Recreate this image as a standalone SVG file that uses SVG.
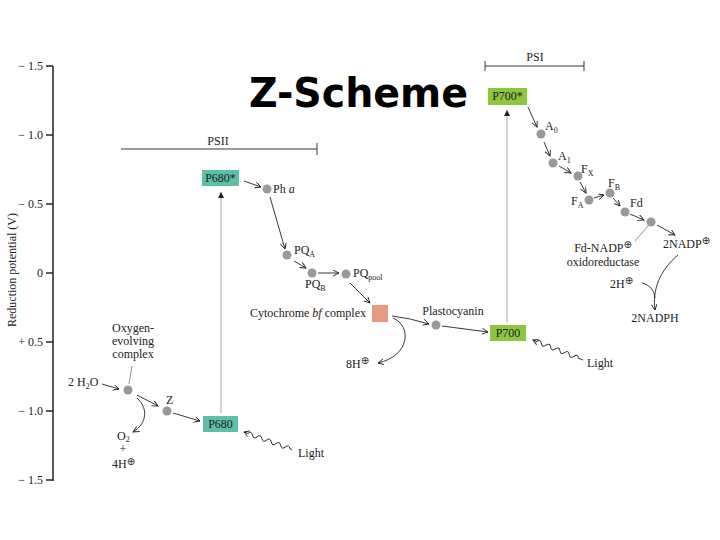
<svg xmlns="http://www.w3.org/2000/svg" width="720" height="540" viewBox="0 0 720 540">
<defs>
<style>
.t{font-family:"Liberation Serif","Times New Roman",serif;font-size:12px;fill:#222}
.s{font-size:8px}
.p{font-family:"DejaVu Sans",sans-serif;font-size:10px}
.ln{stroke:#222;stroke-width:0.9;fill:none}
.ld{stroke:#777;stroke-width:0.8;fill:none}
.up{stroke:#aaa;stroke-width:1;fill:none}
.dot{fill:#999}
.ax{stroke:#222;stroke-width:1.5;fill:none}
.title{font-family:"DejaVu Sans",sans-serif;font-weight:bold;font-size:40px;fill:#000}
</style>
<marker id="ah" markerWidth="8" markerHeight="8" refX="6" refY="3" orient="auto" markerUnits="userSpaceOnUse">
<path d="M0,0 L6,3 L0,6" fill="none" stroke="#222" stroke-width="0.9"/>
</marker>
<marker id="ahf" markerWidth="8" markerHeight="8" refX="6" refY="3" orient="auto" markerUnits="userSpaceOnUse">
<path d="M0,0 L6,3 L0,6 Z" fill="#222"/>
</marker>
</defs>
<rect width="720" height="540" fill="#fff"/>

<text class="title" x="249" y="107" textLength="219" lengthAdjust="spacingAndGlyphs">Z-Scheme</text>

<g id="axis">
<line class="ax" x1="53" y1="66" x2="53" y2="481"/>
<g class="ax">
<line x1="46" y1="66" x2="53" y2="66"/>
<line x1="46" y1="135" x2="53" y2="135"/>
<line x1="46" y1="204" x2="53" y2="204"/>
<line x1="46" y1="273" x2="53" y2="273"/>
<line x1="46" y1="342" x2="53" y2="342"/>
<line x1="46" y1="411" x2="53" y2="411"/>
<line x1="46" y1="480" x2="53" y2="480"/>
</g>
<g class="t" text-anchor="end">
<text x="43" y="70">− 1.5</text>
<text x="43" y="139">− 1.0</text>
<text x="43" y="208">− 0.5</text>
<text x="43" y="277">0</text>
<text x="43" y="346">+ 0.5</text>
<text x="43" y="415">− 1.0</text>
<text x="43" y="484">− 1.5</text>
</g>
<text class="t" transform="translate(16,270) rotate(-90)" text-anchor="middle">Reduction potential (V)</text>
</g>

<g id="psii-bracket">
<line class="ln" x1="121" y1="149" x2="317" y2="149"/>
<line class="ln" x1="317" y1="143" x2="317" y2="155"/>
<text class="t" x="218" y="145" text-anchor="middle">PSII</text>
</g>
<g id="psi-bracket">
<line class="ln" x1="485" y1="66" x2="584" y2="66"/>
<line class="ln" x1="485" y1="61" x2="485" y2="71"/>
<line class="ln" x1="584" y1="61" x2="584" y2="71"/>
<text class="t" x="535" y="61" text-anchor="middle">PSI</text>
</g>

<g id="connectors">
<line class="up" x1="221" y1="413" x2="221" y2="192" marker-end="url(#ahf)"/>
<line class="up" x1="507" y1="323" x2="507" y2="110" marker-end="url(#ahf)"/>
<line class="ln" x1="244" y1="181" x2="261" y2="187" marker-end="url(#ah)"/>
<line class="ln" x1="270" y1="197" x2="285" y2="249" marker-end="url(#ah)"/>
<line class="ln" x1="294" y1="261" x2="306" y2="268" marker-end="url(#ah)"/>
<line class="ln" x1="318" y1="273" x2="339" y2="273" marker-end="url(#ah)"/>
<line class="ln" x1="350" y1="283" x2="370" y2="303" marker-end="url(#ah)"/>
<path class="ln" d="M392,316 Q410,318 429,324" marker-end="url(#ah)"/>
<line class="ln" x1="442" y1="326" x2="488" y2="332" marker-end="url(#ah)"/>
<path class="ln" d="M393,318 C412,326 410,356 378,363" marker-end="url(#ah)"/>
<line class="ln" x1="528" y1="107" x2="537" y2="127" marker-end="url(#ah)"/>
<line class="ln" x1="544" y1="142" x2="550" y2="156" marker-end="url(#ah)"/>
<line class="ln" x1="559" y1="166" x2="571" y2="173" marker-end="url(#ah)"/>
<line class="ln" x1="580" y1="182" x2="586" y2="193" marker-end="url(#ah)"/>
<line class="ln" x1="594" y1="198" x2="604" y2="195" marker-end="url(#ah)"/>
<line class="ln" x1="613" y1="198" x2="620" y2="206" marker-end="url(#ah)"/>
<line class="ln" x1="630" y1="214" x2="644" y2="220" marker-end="url(#ah)"/>
<line class="ld" x1="648" y1="226" x2="635" y2="241"/>
<line class="ln" x1="657" y1="225" x2="675" y2="235" marker-end="url(#ah)"/>
<path class="ln" d="M678,255 C660,270 652,290 655,310" marker-end="url(#ah)"/>
<path class="ln" d="M642,283 C650,285 654,290 655,298"/>
<line class="ln" x1="102" y1="384" x2="119" y2="389" marker-end="url(#ah)"/>
<line class="ln" x1="137" y1="395" x2="158" y2="406" marker-end="url(#ah)"/>
<line class="ln" x1="173" y1="413" x2="200" y2="421" marker-end="url(#ah)"/>
<path class="ln" d="M137,398 C150,410 145,425 133,432" marker-end="url(#ah)"/>
<line class="ld" x1="132" y1="366" x2="129" y2="384"/>
<g transform="translate(244,432) rotate(20)">
<path class="ln" d="M5,-3 L0,0 L5,3"/>
<path class="ln" d="M0,0 L4,0 q2.5,-4 5,0 t5,0 t5,0 t5,0 t5,0 t5,0 t5,0 t5,0 t5,0 L51,0"/>
</g>
<g transform="translate(533,340) rotate(21.8)">
<path class="ln" d="M5,-3 L0,0 L5,3"/>
<path class="ln" d="M0,0 L4,0 q2.5,-4 5,0 t5,0 t5,0 t5,0 t5,0 t5,0 t5,0 t5,0 t5,0 L54,0"/>
</g>
</g>

<g id="p680star"><rect x="202" y="170" width="37" height="16" fill="#5cbfa6"/><text class="t" x="220.5" y="182" text-anchor="middle" font-size="11">P680*</text></g>
<g id="pheo"><circle class="dot" cx="267" cy="189" r="4.5"/><text class="t" x="273" y="193">Ph <tspan font-style="italic">a</tspan></text></g>
<g id="pqa"><circle class="dot" cx="287" cy="255" r="4.5"/><text class="t" x="294" y="254">PQ<tspan class="s" dy="3">A</tspan></text></g>
<g id="pqb"><circle class="dot" cx="312" cy="273" r="4.5"/><text class="t" x="305" y="288">PQ<tspan class="s" dy="3">B</tspan></text></g>
<g id="pqpool"><circle class="dot" cx="346" cy="274" r="4.5"/><text class="t" x="353" y="277">PQ<tspan class="s" dy="3">pool</tspan></text></g>
<g id="cytbf"><rect x="372" y="305" width="16" height="17" fill="#e89a80"/><text class="t" x="366" y="317" text-anchor="end">Cytochrome <tspan font-style="italic">bf</tspan> complex</text></g>
<g id="plastocyanin"><circle class="dot" cx="436" cy="325" r="4.5"/><text class="t" x="453" y="315" text-anchor="middle">Plastocyanin</text></g>
<g id="p700"><rect x="490" y="325" width="36" height="16" fill="#8dc63f"/><text class="t" x="508" y="337" text-anchor="middle" font-size="11">P700</text></g>
<g id="p700star"><rect x="488" y="88" width="39" height="17" fill="#8dc63f"/><text class="t" x="507.5" y="100" text-anchor="middle" font-size="11">P700*</text></g>
<g id="a0"><circle class="dot" cx="541" cy="134" r="4.5"/><text class="t" x="545" y="130">A<tspan class="s" dy="3">0</tspan></text></g>
<g id="a1"><circle class="dot" cx="553" cy="163" r="4.5"/><text class="t" x="558" y="160">A<tspan class="s" dy="3">1</tspan></text></g>
<g id="fx"><circle class="dot" cx="578" cy="176" r="4.5"/><text class="t" x="581" y="173">F<tspan class="s" dy="3">X</tspan></text></g>
<g id="fa"><circle class="dot" cx="589" cy="200" r="4.5"/><text class="t" x="571" y="205">F<tspan class="s" dy="3">A</tspan></text></g>
<g id="fb"><circle class="dot" cx="610" cy="193" r="4.5"/><text class="t" x="608" y="187">F<tspan class="s" dy="3">B</tspan></text></g>
<g id="fd"><circle class="dot" cx="625" cy="212" r="4.5"/><text class="t" x="630" y="207">Fd</text></g>
<g id="fnr"><circle class="dot" cx="651" cy="222" r="4.5"/><text class="t" x="603" y="252" text-anchor="middle">Fd-NADP<tspan class="p" dy="-4">⊕</tspan></text><text class="t" x="603" y="266" text-anchor="middle">oxidoreductase</text></g>
<g id="nadp"><text class="t" x="663" y="248">2NADP<tspan class="p" dy="-4">⊕</tspan></text></g>
<g id="h2r"><text class="t" x="610" y="288">2H<tspan class="p" dy="-4">⊕</tspan></text></g>
<g id="nadph"><text class="t" x="655" y="322" text-anchor="middle">2NADPH</text></g>
<g id="oec"><circle class="dot" cx="128" cy="390" r="4.5"/><text class="t" x="133" y="332" text-anchor="middle" font-size="11">Oxygen-</text><text class="t" x="133" y="345" text-anchor="middle" font-size="11">evolving</text><text class="t" x="133" y="358" text-anchor="middle" font-size="11">complex</text></g>
<g id="water"><text class="t" x="68" y="386">2 H<tspan class="s" dy="3">2</tspan><tspan dy="-3">O</tspan></text></g>
<g id="z"><circle class="dot" cx="167" cy="411" r="4.5"/><text class="t" x="166" y="404">Z</text></g>
<g id="p680"><rect x="203" y="416" width="35" height="16" fill="#5cbfa6"/><text class="t" x="220.5" y="428" text-anchor="middle" font-size="11">P680</text></g>
<g id="o2"><text class="t" x="117" y="440" font-size="11">O<tspan class="s" dy="2">2</tspan></text><text class="t" x="123" y="453" text-anchor="middle" font-size="9">+</text><text class="t" x="112" y="468" font-size="11">4H<tspan class="p" dy="-3" font-size="9">⊕</tspan></text></g>
<g id="h8"><text class="t" x="346" y="368">8H<tspan class="p" dy="-4">⊕</tspan></text></g>
<g id="light1"><text class="t" x="298" y="457">Light</text></g>
<g id="light2"><text class="t" x="587" y="367">Light</text></g>
</svg>
